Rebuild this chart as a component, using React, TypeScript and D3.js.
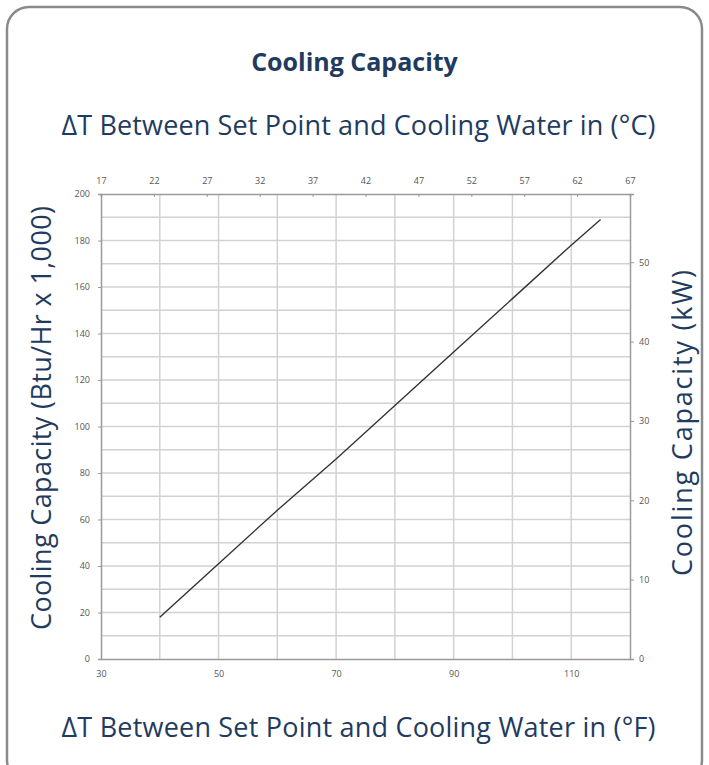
import { useRef, useEffect } from "react";
import * as d3 from "d3";

// dT in °F vs capacity (Btu/Hr x 1,000)
const deltaF = [40, 50, 60, 70, 80, 90, 100, 110, 115];
const capacityBtu = [18, 41, 64, 86, 109, 132, 155, 178, 189];

const bottomTicks = [30, 50, 70, 90, 110];
const topTicks = [17, 22, 27, 32, 37, 42, 47, 52, 57, 62, 67];
const leftTicks = [0, 20, 40, 60, 80, 100, 120, 140, 160, 180, 200];
const rightTicks = [0, 10, 20, 30, 40, 50];

const W = 709;
const H = 765;
const PLOT = { left: 101, right: 630, top: 194, bottom: 659 };
const NAVY = "#1f3b60";
const FONT = "'Open Sans', 'Noto Sans', sans-serif";

export default function App() {
  const svgRef = useRef<SVGSVGElement>(null);

  useEffect(() => {
    document.body.style.margin = "0";
    if (!svgRef.current) return;
    const svg = d3.select(svgRef.current);
    svg.selectAll("*").remove();

    const x = d3.scaleLinear().domain([30, 120]).range([PLOT.left, PLOT.right]);
    const xTop = d3.scaleLinear().domain([17, 67]).range([PLOT.left, PLOT.right]);
    const y = d3.scaleLinear().domain([0, 200]).range([PLOT.bottom, PLOT.top]);
    const yRight = d3.scaleLinear().domain([0, 58.6]).range([PLOT.bottom, PLOT.top]);

    // card frame
    svg.append("rect")
      .attr("x", 7).attr("y", 7)
      .attr("width", W - 14).attr("height", H + 10)
      .attr("rx", 22)
      .attr("fill", "#fff")
      .attr("stroke", "#8a8a8a")
      .attr("stroke-width", 2.5);

    // grid
    const grid = svg.append("g").attr("stroke", "#d2d2d2").attr("stroke-width", 1.5);
    grid.selectAll("line.v")
      .data(d3.range(40, 120, 10))
      .join("line")
      .attr("x1", (d) => x(d)).attr("x2", (d) => x(d))
      .attr("y1", PLOT.top).attr("y2", PLOT.bottom);
    grid.selectAll("line.h")
      .data(d3.range(10, 200, 10))
      .join("line")
      .attr("class", "h")
      .attr("y1", (d) => y(d)).attr("y2", (d) => y(d))
      .attr("x1", PLOT.left).attr("x2", PLOT.right);

    const styleAxis = (g: d3.Selection<SVGGElement, unknown, null, undefined>) => {
      g.select(".domain").attr("stroke", "#9a9a9a").attr("stroke-width", 1.5);
      g.selectAll(".tick line").attr("stroke", "#9a9a9a");
      g.selectAll("text")
        .attr("fill", "#555")
        .style("font-size", "9px")
        .style("font-family", FONT);
    };

    svg.append("g")
      .attr("transform", `translate(0,${PLOT.bottom})`)
      .call(d3.axisBottom(x).tickValues(bottomTicks).tickSize(0).tickPadding(12))
      .call(styleAxis);

    svg.append("g")
      .attr("transform", `translate(0,${PLOT.top})`)
      .call(d3.axisTop(xTop).tickValues(topTicks).tickSize(-3).tickPadding(10))
      .call(styleAxis);

    svg.append("g")
      .attr("transform", `translate(${PLOT.left},0)`)
      .call(d3.axisLeft(y).tickValues(leftTicks).tickSize(3).tickPadding(8))
      .call(styleAxis);

    svg.append("g")
      .attr("transform", `translate(${PLOT.right},0)`)
      .call(d3.axisRight(yRight).tickValues(rightTicks).tickSize(4).tickPadding(5))
      .call(styleAxis);

    // capacity line
    const line = d3.line<number>()
      .x((_, i) => x(deltaF[i]))
      .y((d) => y(d));
    svg.append("path")
      .datum(capacityBtu)
      .attr("d", line)
      .attr("fill", "none")
      .attr("stroke", "#333")
      .attr("stroke-width", 1.4);

    // titles
    svg.append("text")
      .attr("x", W / 2).attr("y", 71)
      .attr("text-anchor", "middle")
      .attr("fill", NAVY)
      .style("font-family", FONT)
      .style("font-weight", "700")
      .style("font-size", "25px")
      .text("Cooling Capacity");

    const bigLabel = (tx: number, ty: number, rot: number, size: number, txt: string, len?: number) => {
      const t = svg.append("text")
        .attr("transform", `translate(${tx},${ty}) rotate(${rot})`)
        .attr("text-anchor", "middle")
        .attr("fill", NAVY)
        .style("font-family", FONT)
        .style("font-size", `${size}px`)
        .text(txt);
      if (len) t.attr("textLength", len).attr("lengthAdjust", "spacing");
      return t;
    };

    bigLabel(W / 2 + 4, 135, 0, 27, "ΔT Between Set Point and Cooling Water in (°C)", 594);
    bigLabel(W / 2 + 4, 737, 0, 27, "ΔT Between Set Point and Cooling Water in (°F)", 594);
    bigLabel(51, 418, -90, 27, "Cooling Capacity (Btu/Hr x 1,000)", 424);
    bigLabel(692, 423, -90, 27, "Cooling Capacity (kW)", 306);
  }, []);

  return <svg ref={svgRef} width={W} height={H} style={{ display: "block" }} />;
}
